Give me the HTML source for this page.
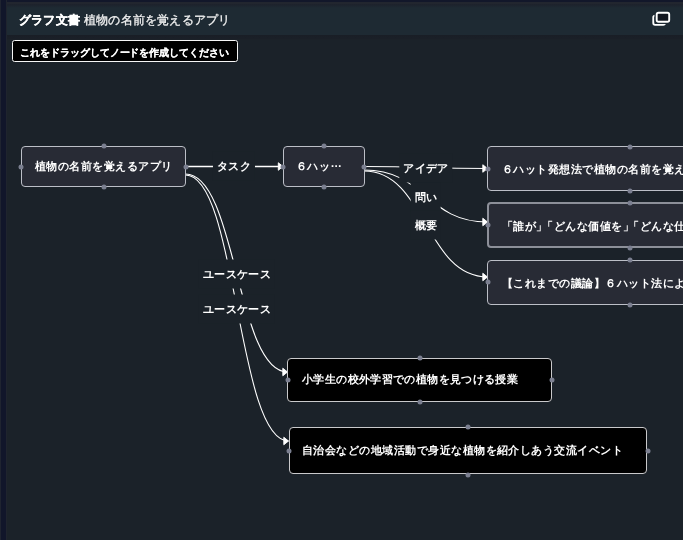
<!DOCTYPE html>
<html lang="ja">
<head>
<meta charset="utf-8">
<style>
*{box-sizing:border-box;margin:0;padding:0}
html,body{width:683px;height:540px;overflow:hidden;background:#1b2229;font-family:"Liberation Sans",sans-serif;color:#fff}
#side{position:absolute;left:0;top:0;width:7.4px;height:540px;background:#11162a;border-left:1.3px solid #1f2430;border-right:1.6px solid #1f242e}
#topbar{position:absolute;left:0;top:0;width:683px;height:1.7px;background:#12172a}
#hdr{position:absolute;left:7px;top:1.7px;width:676px;height:33.3px;background:linear-gradient(#22262f 0,#22262f 1.6px,#1d222c 2.6px,#1e2a33 6px,#1e2a33)}
#hdrsh{position:absolute;left:7px;top:35px;width:676px;height:5px;background:linear-gradient(#191e26,#1a1f27 70%,#1b2229)}
#t1{position:absolute;left:18.5px;top:13px;letter-spacing:0.2px;font-size:12px;font-weight:bold;-webkit-text-stroke:0.3px #fff;line-height:15px;white-space:nowrap}
#t2{position:absolute;left:84px;top:13px;font-size:12px;line-height:15px;color:#f2f2f2;letter-spacing:0.2px;-webkit-text-stroke:0.3px #f2f2f2;white-space:nowrap}
#icon{position:absolute;left:648px;top:8px}
#drag{position:absolute;left:12px;top:40px;width:225.5px;height:22px;background:#000;border:1px solid #f6f6f6;border-radius:2.6px;font-size:10px;font-weight:bold;line-height:23px;padding-left:7.4px;letter-spacing:-0.05px;-webkit-text-stroke:0.12px #fff;white-space:nowrap}
#edges{position:absolute;left:0;top:0}
.lbl{position:absolute;height:29px;line-height:29px;padding:0 4px;background:#1b2229;font-size:11.3px;letter-spacing:0.35px;font-weight:bold;white-space:nowrap;transform:translate(-50%,-50%)}
.node{position:absolute;border:1.5px solid #bcbfc7;border-radius:4px;background:#282b35;font-size:11.3px;letter-spacing:0.47px;font-weight:bold;white-space:nowrap;overflow:hidden;display:flex;align-items:center}
.blk{background:#000;border-color:#c9c9cb}
span{will-change:transform;display:inline-block}
.h{position:absolute;width:5px;height:5px;border-radius:50%;background:#7b7f90;transform:translate(-50%,-50%)}
</style>
</head>
<body>
<div id="topbar"></div>
<div id="side"></div>
<div id="hdr"></div>
<div id="hdrsh"></div>
<div id="t1"><span>グラフ文書</span></div>
<div id="t2"><span>植物の名前を覚えるアプリ</span></div>
<svg id="icon" width="26" height="22" viewBox="0 0 26 22">
  <rect x="5.3" y="7.6" width="11.6" height="9.3" rx="1.8" fill="none" stroke="#fff" stroke-width="1.9"/>
  <rect x="8.7" y="4.7" width="12.5" height="9" rx="1.8" fill="#131821" stroke="#1e2a33" stroke-width="4.5"/>
  <rect x="8.7" y="4.7" width="12.5" height="9" rx="1.8" fill="#131821" stroke="#fff" stroke-width="1.9"/>
</svg>
<div id="drag"><span>これをドラッグしてノードを作成してください</span></div>

<svg id="edges" width="683" height="540" viewBox="0 0 683 540">
  <g fill="none" stroke="#fff" stroke-width="1.5">
    <path d="M185.5,166.5 L283,166.5"/>
  </g>
  <g fill="none" stroke="#fff" stroke-width="1.2">
    <path d="M364,166.5 C426,166.5 426,168.5 487.5,168.5"/>
  </g>
  <g fill="none" stroke="#fff" stroke-width="1.1">
    <path d="M364,170 C425.75,170 425.75,222 487.5,222"/>
    <path d="M364,171 C425.75,171 425.75,277 487.5,277"/>
    <path d="M185.5,174 C236.5,174 236.5,372 287.5,372"/>
    <path d="M185.5,175 C237,175 237,441 288.5,441"/>
  </g>
  <g fill="#fff" stroke="#fff" stroke-width="0.94" stroke-linejoin="round">
    <polygon points="278.3,162.75 283,166.5 278.3,170.25"/>
    <polygon points="482.8,164.75 487.5,168.5 482.8,172.25"/>
    <polygon points="482.8,218.25 487.5,222 482.8,225.75"/>
    <polygon points="482.8,273.25 487.5,277 482.8,280.75"/>
    <polygon points="282.8,368.25 287.5,372 282.8,375.75"/>
    <polygon points="283.8,437.25 288.5,441 283.8,444.75"/>
  </g>
</svg>

<div class="lbl" style="left:234px;top:165.8px"><span>タスク</span></div>
<div class="lbl" style="left:426px;top:167.5px"><span>アイデア</span></div>
<div class="lbl" style="left:425.75px;top:196.5px"><span>問い</span></div>
<div class="lbl" style="left:425.75px;top:224.5px"><span>概要</span></div>
<div class="lbl" style="left:236.5px;top:273.5px"><span>ユースケース</span></div>
<div class="lbl" style="left:237px;top:308.5px"><span>ユースケース</span></div>

<div class="node" style="left:21px;top:146px;width:165px;height:41px;padding-left:13px"><span>植物の名前を覚えるアプリ</span></div>
<div class="node" style="left:283px;top:146px;width:81.5px;height:41px;padding-left:12.4px"><span>６ハッ<i style="font-style:normal;position:relative;top:-2.8px">…</i></span></div>
<div class="node" style="left:487px;top:146.4px;width:284px;height:44.5px;padding-left:13.8px;padding-top:2px"><span>６ハット発想法で植物の名前を覚える</span></div>
<div class="node" style="left:487px;top:202.3px;width:284px;height:45.3px;padding-left:13px;padding-top:2.2px;border-width:2px;border-color:#8d9099"><span>「誰が<i style="font-style:normal;letter-spacing:-5.2px">」</i>「どんな価値を<i style="font-style:normal;letter-spacing:-5.2px">」</i>「どんな仕組みで</span></div>
<div class="node" style="left:487px;top:259.8px;width:284px;height:44.8px;padding-left:14px;padding-top:2px"><span>【これまでの議論】６ハット法による</span></div>
<div class="node blk" style="left:287.4px;top:358.2px;width:264.4px;height:43.5px;padding-left:14px;letter-spacing:0.38px"><span>小学生の校外学習での植物を見つける授業</span></div>
<div class="node blk" style="left:288.7px;top:427.3px;width:358.7px;height:47px;padding-left:12.6px"><span>自治会などの地域活動で身近な植物を紹介しあう交流イベント</span></div>

<!-- handles -->
<div class="h" style="left:21px;top:166.5px"></div>
<div class="h" style="left:103.5px;top:146.3px"></div>
<div class="h" style="left:103.5px;top:186.8px"></div>
<div class="h" style="left:185.5px;top:166.5px"></div>

<div class="h" style="left:283.3px;top:166.5px"></div>
<div class="h" style="left:323.5px;top:146.3px"></div>
<div class="h" style="left:323.5px;top:186.8px"></div>
<div class="h" style="left:364px;top:166.5px"></div>

<div class="h" style="left:487.7px;top:168.7px"></div>
<div class="h" style="left:629.5px;top:146.5px"></div>
<div class="h" style="left:629.5px;top:190.5px"></div>

<div class="h" style="left:487.7px;top:225.2px"></div>
<div class="h" style="left:629.5px;top:203.3px"></div>
<div class="h" style="left:629.5px;top:247.5px"></div>

<div class="h" style="left:487.7px;top:282.2px"></div>
<div class="h" style="left:629.5px;top:260px"></div>
<div class="h" style="left:629.5px;top:304.5px"></div>

<div class="h" style="left:287.6px;top:379.8px"></div>
<div class="h" style="left:419.8px;top:357.6px"></div>
<div class="h" style="left:419.8px;top:401.5px"></div>
<div class="h" style="left:551.8px;top:380px"></div>

<div class="h" style="left:288.8px;top:451.2px"></div>
<div class="h" style="left:468.3px;top:427.2px"></div>
<div class="h" style="left:468.3px;top:474.5px"></div>
<div class="h" style="left:647.6px;top:451.2px"></div>
</body>
</html>
